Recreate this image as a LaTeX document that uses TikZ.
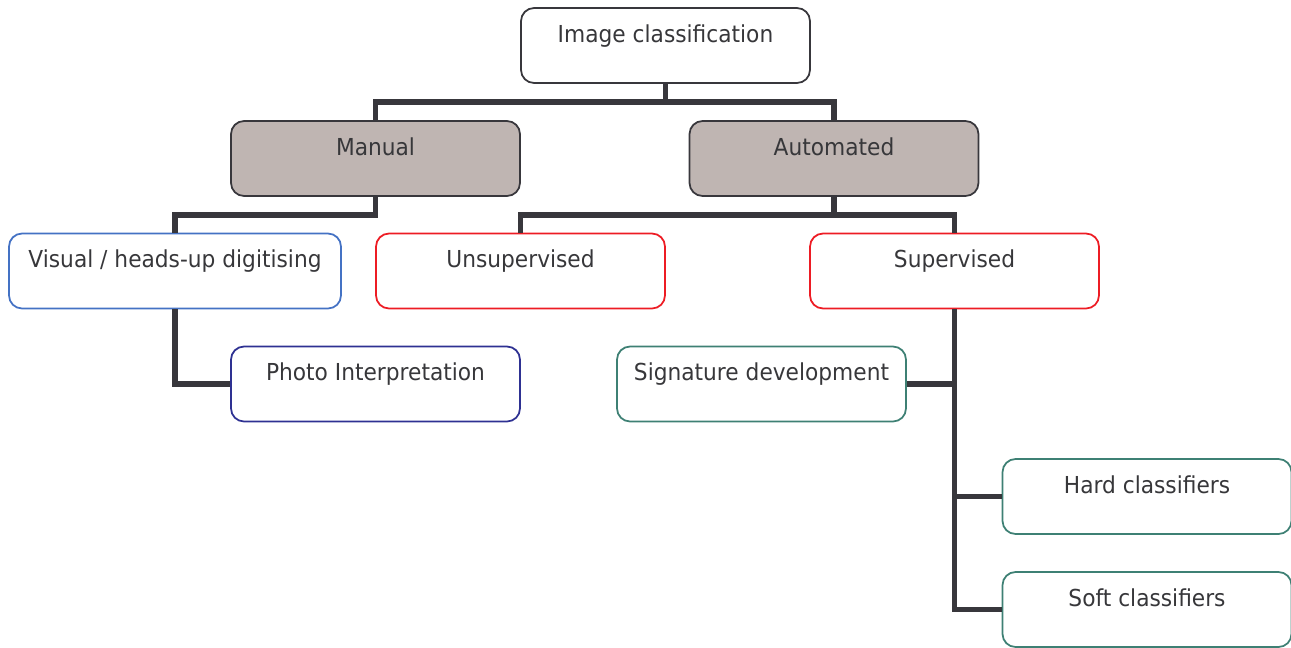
\documentclass[tikz,border=0pt]{standalone}
\usepackage{fontspec}
\setmainfont[FakeStretch=0.93]{DejaVu Sans}
\usepackage{tikz}
\usepackage{xcolor}
\definecolor{linegray}{RGB}{56,55,60}
\definecolor{textgray}{RGB}{55,55,58}
\definecolor{boxfill}{RGB}{191,181,178}
\definecolor{blueedge}{RGB}{68,114,196}
\definecolor{rededge}{RGB}{237,28,36}
\definecolor{navyedge}{RGB}{46,49,146}
\definecolor{tealedge}{RGB}{62,128,116}

\begin{document}
\begin{tikzpicture}[x=0.02cm,y=-0.02cm]
     \tikzstyle{box}=[draw=linegray,rounded corners=0.26cm,line width=1pt,
       minimum width=5.78cm,inner xsep=0pt,inner ysep=0.3cm,
       text height=0.38cm,text depth=0.52cm,text=textgray,
       font=\fontsize{13.3}{16}\selectfont]
     \tikzstyle{conn}=[draw=linegray,line width=3.1pt]
     \useasboundingbox (0,0) rectangle (1291,647);

     \node[box] (root) at (665.5,45.5) {Image classification};
     \node[box,fill=boxfill] (manual) at (375.5,158.5) {Manual};
     \node[box,fill=boxfill] (auto) at (834,158.5) {Automated};
     \node[box,draw=blueedge,minimum width=6.64cm] (visual) at (175,271) {Visual / heads-up digitising};
     \node[box,draw=rededge] (unsup) at (520.5,271) {Unsupervised};
     \node[box,draw=rededge] (sup) at (954.5,271) {Supervised};
     \node[box,draw=navyedge] (photo) at (375.5,384) {Photo Interpretation};
     \node[box,draw=tealedge] (sig) at (761.5,384) {Signature development};
     \node[box,draw=tealedge] (hard) at (1147,496.5) {Hard classifiers};
     \node[box,draw=tealedge] (soft) at (1147,609.5) {Soft classifiers};

     \draw[conn] (root.south) -- ++(0,18) -| (manual.north);
     \draw[conn] (root.south) -- ++(0,18) -| (auto.north);
     \draw[conn] (manual.south) -- ++(0,18) -| (visual.north);
     \draw[conn] (visual.south) |- (photo.west);
     \draw[conn] (auto.south) -- ++(0,18) -| (unsup.north);
     \draw[conn] (auto.south) -- ++(0,18) -| (sup.north);
     \draw[conn] (sup.south) |- (sig.east);
     \draw[conn] (sup.south) |- (hard.west);
     \draw[conn] (sup.south) |- (soft.west);
\end{tikzpicture}
\end{document}
